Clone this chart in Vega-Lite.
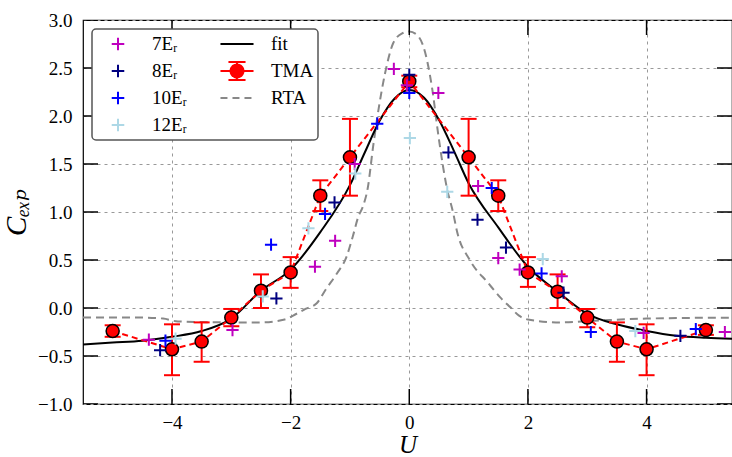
{
  "$schema": "https://vega.github.io/schema/vega-lite/v6.json",
  "width": 649,
  "height": 384,
  "autosize": "none",
  "padding": {"left": 83, "top": 20, "right": 0, "bottom": 53},
  "background": "white",
  "datasets": {
    "rta": [
      {"s":"RTA","x":-5.5,"y":-0.10},{"s":"RTA","x":-4.5,"y":-0.10},{"s":"RTA","x":-4.15,"y":-0.11},{"s":"RTA","x":-3.9,"y":-0.14},
      {"s":"RTA","x":-3.0,"y":-0.15},{"s":"RTA","x":-2.5,"y":-0.15},{"s":"RTA","x":-2.1,"y":-0.12},{"s":"RTA","x":-1.9,"y":-0.06},
      {"s":"RTA","x":-1.75,"y":-0.01},{"s":"RTA","x":-1.56,"y":0.05},{"s":"RTA","x":-1.4,"y":0.2},{"s":"RTA","x":-1.22,"y":0.36},
      {"s":"RTA","x":-1.06,"y":0.53},{"s":"RTA","x":-0.95,"y":0.75},{"s":"RTA","x":-0.86,"y":0.95},{"s":"RTA","x":-0.78,"y":1.06},
      {"s":"RTA","x":-0.70,"y":1.25},{"s":"RTA","x":-0.61,"y":1.68},{"s":"RTA","x":-0.51,"y":2.10},{"s":"RTA","x":-0.41,"y":2.44},
      {"s":"RTA","x":-0.27,"y":2.76},{"s":"RTA","x":-0.12,"y":2.86},{"s":"RTA","x":0,"y":2.88},{"s":"RTA","x":0.12,"y":2.85},
      {"s":"RTA","x":0.24,"y":2.72},{"s":"RTA","x":0.38,"y":2.31},{"s":"RTA","x":0.49,"y":1.80},{"s":"RTA","x":0.57,"y":1.47},
      {"s":"RTA","x":0.63,"y":1.26},{"s":"RTA","x":0.74,"y":0.99},{"s":"RTA","x":0.80,"y":0.81},{"s":"RTA","x":1.02,"y":0.50},
      {"s":"RTA","x":1.33,"y":0.26},{"s":"RTA","x":1.55,"y":0.10},{"s":"RTA","x":1.70,"y":0.01},{"s":"RTA","x":1.85,"y":-0.08},
      {"s":"RTA","x":2.0,"y":-0.12},{"s":"RTA","x":2.54,"y":-0.15},{"s":"RTA","x":3.2,"y":-0.13},{"s":"RTA","x":4.0,"y":-0.11},
      {"s":"RTA","x":5.5,"y":-0.10}
    ],
    "fit": [
      {"s":"fit","x":-5.5,"y":-0.38},{"s":"fit","x":-5,"y":-0.36},{"s":"fit","x":-4.5,"y":-0.34},{"s":"fit","x":-4,"y":-0.30},
      {"s":"fit","x":-3.5,"y":-0.24},{"s":"fit","x":-3,"y":-0.11},{"s":"fit","x":-2.5,"y":0.18},{"s":"fit","x":-2,"y":0.40},
      {"s":"fit","x":-1.5,"y":0.79},{"s":"fit","x":-1,"y":1.28},{"s":"fit","x":-0.75,"y":1.62},{"s":"fit","x":-0.5,"y":1.95},
      {"s":"fit","x":-0.25,"y":2.18},{"s":"fit","x":0,"y":2.27},{"s":"fit","x":0.25,"y":2.19},{"s":"fit","x":0.5,"y":1.96},
      {"s":"fit","x":0.75,"y":1.64},{"s":"fit","x":1,"y":1.30},{"s":"fit","x":1.5,"y":0.84},{"s":"fit","x":2,"y":0.43},
      {"s":"fit","x":2.5,"y":0.17},{"s":"fit","x":3,"y":-0.06},{"s":"fit","x":3.5,"y":-0.17},{"s":"fit","x":4,"y":-0.24},
      {"s":"fit","x":4.5,"y":-0.29},{"s":"fit","x":5,"y":-0.31},{"s":"fit","x":5.5,"y":-0.32}
    ],
    "tma": [
      {"s":"TMA","x":-5,"y":-0.24,"lo":-0.30,"hi":-0.18},
      {"s":"TMA","x":-4,"y":-0.43,"lo":-0.70,"hi":-0.17},
      {"s":"TMA","x":-3.5,"y":-0.35,"lo":-0.56,"hi":-0.15},
      {"s":"TMA","x":-3,"y":-0.10,"lo":-0.19,"hi":-0.01},
      {"s":"TMA","x":-2.5,"y":0.18,"lo":0.00,"hi":0.35},
      {"s":"TMA","x":-2,"y":0.37,"lo":0.21,"hi":0.53},
      {"s":"TMA","x":-1.5,"y":1.17,"lo":1.01,"hi":1.33},
      {"s":"TMA","x":-1,"y":1.57,"lo":1.17,"hi":1.97},
      {"s":"TMA","x":0,"y":2.36,"lo":2.30,"hi":2.42},
      {"s":"TMA","x":1,"y":1.57,"lo":1.17,"hi":1.97},
      {"s":"TMA","x":1.5,"y":1.17,"lo":1.01,"hi":1.33},
      {"s":"TMA","x":2,"y":0.37,"lo":0.22,"hi":0.53},
      {"s":"TMA","x":2.5,"y":0.17,"lo":0.00,"hi":0.35},
      {"s":"TMA","x":3,"y":-0.10,"lo":-0.20,"hi":-0.01},
      {"s":"TMA","x":3.5,"y":-0.35,"lo":-0.56,"hi":-0.15},
      {"s":"TMA","x":4,"y":-0.43,"lo":-0.70,"hi":-0.17},
      {"s":"TMA","x":5,"y":-0.23,"lo":-0.28,"hi":-0.18}
    ],
    "exp": [
      {"s":"7Eᵣ","x":-4.39,"y":-0.33},{"s":"7Eᵣ","x":-2.98,"y":-0.23},{"s":"7Eᵣ","x":-1.59,"y":0.43},{"s":"7Eᵣ","x":-1.25,"y":0.70},
      {"s":"7Eᵣ","x":-0.92,"y":1.50},{"s":"7Eᵣ","x":-0.26,"y":2.49},{"s":"7Eᵣ","x":-0.04,"y":2.32},{"s":"7Eᵣ","x":0.49,"y":2.24},
      {"s":"7Eᵣ","x":1.16,"y":1.27},{"s":"7Eᵣ","x":1.50,"y":0.52},{"s":"7Eᵣ","x":1.86,"y":0.40},{"s":"7Eᵣ","x":2.57,"y":0.33},
      {"s":"7Eᵣ","x":3.95,"y":-0.26},{"s":"7Eᵣ","x":5.32,"y":-0.25},
      {"s":"8Eᵣ","x":-4.20,"y":-0.44},{"s":"8Eᵣ","x":-2.24,"y":0.10},{"s":"8Eᵣ","x":-1.26,"y":1.10},{"s":"8Eᵣ","x":0.0,"y":2.43},
      {"s":"8Eᵣ","x":0.66,"y":1.62},{"s":"8Eᵣ","x":1.15,"y":0.92},{"s":"8Eᵣ","x":1.63,"y":0.63},{"s":"8Eᵣ","x":2.60,"y":0.16},
      {"s":"8Eᵣ","x":4.57,"y":-0.29},
      {"s":"10Eᵣ","x":-4.11,"y":-0.34},{"s":"10Eᵣ","x":-2.33,"y":0.66},{"s":"10Eᵣ","x":-1.42,"y":0.98},{"s":"10Eᵣ","x":-0.54,"y":1.92},
      {"s":"10Eᵣ","x":0.0,"y":2.24},{"s":"10Eᵣ","x":1.39,"y":1.25},{"s":"10Eᵣ","x":2.23,"y":0.36},{"s":"10Eᵣ","x":3.06,"y":-0.25},
      {"s":"10Eᵣ","x":4.83,"y":-0.22},
      {"s":"12Eᵣ","x":-3.94,"y":-0.32},{"s":"12Eᵣ","x":-2.47,"y":0.12},{"s":"12Eᵣ","x":-1.70,"y":0.83},{"s":"12Eᵣ","x":-0.91,"y":1.40},
      {"s":"12Eᵣ","x":0.01,"y":1.77},{"s":"12Eᵣ","x":0.64,"y":1.21},{"s":"12Eᵣ","x":2.25,"y":0.51},{"s":"12Eᵣ","x":3.81,"y":-0.24}
    ],
    "xticks": [{"v": -4}, {"v": -2}, {"v": 0}, {"v": 2}, {"v": 4}],
    "yticks": [{"v": -1}, {"v": -0.5}, {"v": 0}, {"v": 0.5}, {"v": 1}, {"v": 1.5}, {"v": 2}, {"v": 2.5}, {"v": 3}]
  },
  "layer": [
    {
      "data": {"name": "rta"},
      "mark": {"type": "line", "strokeDash": [8, 5], "strokeWidth": 2, "interpolate": "monotone", "clip": true},
      "encoding": {
        "x": {"field": "x", "type": "quantitative",
          "scale": {"domain": [-5.5, 5.44], "nice": false, "zero": false},
          "axis": {"orient": "bottom", "values": [-4, -2, 0, 2, 4], "format": "d", "title": "U",
            "titleFont": "Liberation Serif", "titleFontStyle": "italic", "titleFontWeight": "normal", "titleFontSize": 25, "titleColor": "black", "titlePadding": 0,
            "grid": true, "gridDash": [3, 4], "gridColor": "#999999", "gridWidth": 1,
            "domain": false, "ticks": false,
            "labelPadding": 9, "labelFont": "Liberation Serif", "labelFontSize": 19, "labelColor": "black"}},
        "y": {"field": "y", "type": "quantitative",
          "scale": {"domain": [-1, 3], "nice": false, "zero": false},
          "axis": {"orient": "left", "values": [-1, -0.5, 0, 0.5, 1, 1.5, 2, 2.5, 3], "format": ".1f", "title": "Cₑₓₚ",
            "titleFont": "Liberation Serif, DejaVu Serif", "titleFontStyle": "italic", "titleFontWeight": "normal", "titleFontSize": 29, "titleColor": "black", "titlePadding": 6,
            "grid": true, "gridDash": [3, 4], "gridColor": "#999999", "gridWidth": 1,
            "domain": false, "ticks": false,
            "labelPadding": 11, "labelFont": "Liberation Serif", "labelFontSize": 19, "labelColor": "black"}},
        "color": {"field": "s", "type": "nominal",
          "scale": {"domain": ["7Eᵣ", "8Eᵣ", "10Eᵣ", "12Eᵣ", "fit", "TMA", "RTA"],
                    "range": ["#bf00bf", "#000080", "#0000ff", "#add8e6", "#000000", "#ff0000", "#888888"]},
          "legend": {"title": null, "orient": "none", "legendX": 9, "legendY": 9, "columns": 2, "columnPadding": 28, "rowPadding": 5,
            "padding": 4, "strokeColor": "#555555", "fillColor": "white", "cornerRadius": 4, "clipHeight": 22,
            "labelFont": "Liberation Serif, DejaVu Serif", "labelFontSize": 19, "labelColor": "black", "labelOffset": 14, "symbolOffset": 2,
            "symbolSize": 1444, "symbolStrokeWidth": 2,
            "encode": {
              "legend": {"update": {"strokeWidth": {"value": 1.5}}},
              "symbols": {"update": {
                "shape": {"signal": "datum.value === 'fit' || datum.value === 'RTA' ? 'M-0.87,0H0.87' : datum.value === 'TMA' ? 'M-0.87,0H-0.34M0.34,0H0.87M-0.45,-0.48H0.45M0,-0.48V-0.34M0,0.34V0.48M-0.45,0.48H0.45M0.34,0A0.34,0.34,0,1,1,-0.34,0A0.34,0.34,0,1,1,0.34,0' : 'M-0.33,0H0.33M0,-0.33V0.33'"},
                "size": {"value": 1444},
                "stroke": {"signal": "scale('color', datum.value)"},
                "fill": {"signal": "datum.value === 'TMA' ? '#ff0000' : 'transparent'"},
                "strokeWidth": {"value": 2},
                "strokeDash": {"signal": "datum.value === 'RTA' ? [7, 5] : [1, 0]"},
                "opacity": {"value": 1}
              }}
            }}}
      }
    },
    {
      "data": {"name": "fit"},
      "mark": {"type": "line", "strokeWidth": 2, "interpolate": "monotone", "clip": true},
      "encoding": {
        "x": {"field": "x", "type": "quantitative"},
        "y": {"field": "y", "type": "quantitative"},
        "color": {"field": "s", "type": "nominal"}
      }
    },
    {
      "data": {"name": "tma"},
      "mark": {"type": "line", "strokeDash": [6, 4], "strokeWidth": 2},
      "encoding": {
        "x": {"field": "x", "type": "quantitative"},
        "y": {"field": "y", "type": "quantitative"},
        "color": {"field": "s", "type": "nominal"}
      }
    },
    {
      "data": {"name": "tma"},
      "mark": {"type": "rule", "color": "#ff0000", "strokeWidth": 2},
      "encoding": {
        "x": {"field": "x", "type": "quantitative"},
        "y": {"field": "lo", "type": "quantitative"},
        "y2": {"field": "hi"}
      }
    },
    {
      "data": {"name": "tma"},
      "mark": {"type": "tick", "orient": "horizontal", "color": "#ff0000", "size": 16, "thickness": 2, "opacity": 1},
      "encoding": {
        "x": {"field": "x", "type": "quantitative"},
        "y": {"field": "lo", "type": "quantitative"}
      }
    },
    {
      "data": {"name": "tma"},
      "mark": {"type": "tick", "orient": "horizontal", "color": "#ff0000", "size": 16, "thickness": 2, "opacity": 1},
      "encoding": {
        "x": {"field": "x", "type": "quantitative"},
        "y": {"field": "hi", "type": "quantitative"}
      }
    },
    {
      "data": {"name": "tma"},
      "mark": {"type": "point", "filled": true, "fill": "#ff0000", "stroke": "#000000", "strokeWidth": 1.5, "size": 170, "opacity": 1},
      "encoding": {
        "x": {"field": "x", "type": "quantitative"},
        "y": {"field": "y", "type": "quantitative"}
      }
    },
    {
      "data": {"name": "exp"},
      "mark": {"type": "point", "shape": "M-1,0H1M0,-1V1", "filled": false, "strokeWidth": 2, "size": 150, "opacity": 1},
      "encoding": {
        "x": {"field": "x", "type": "quantitative"},
        "y": {"field": "y", "type": "quantitative"},
        "color": {"field": "s", "type": "nominal"}
      }
    },
    {
      "data": {"name": "xticks"},
      "mark": {"type": "tick", "orient": "vertical", "color": "#000000", "size": 30, "thickness": 1.5, "opacity": 1, "clip": true},
      "encoding": {
        "x": {"field": "v", "type": "quantitative"},
        "y": {"datum": -1, "type": "quantitative"}
      }
    },
    {
      "data": {"name": "xticks"},
      "mark": {"type": "tick", "orient": "vertical", "color": "#000000", "size": 30, "thickness": 1.5, "opacity": 1, "clip": true},
      "encoding": {
        "x": {"field": "v", "type": "quantitative"},
        "y": {"datum": 3, "type": "quantitative"}
      }
    },
    {
      "data": {"name": "yticks"},
      "mark": {"type": "tick", "orient": "horizontal", "color": "#000000", "size": 30, "thickness": 1.5, "opacity": 1, "clip": true},
      "encoding": {
        "x": {"datum": -5.5, "type": "quantitative"},
        "y": {"field": "v", "type": "quantitative"}
      }
    },
    {
      "data": {"name": "yticks"},
      "mark": {"type": "tick", "orient": "horizontal", "color": "#000000", "size": 30, "thickness": 1.5, "opacity": 1, "clip": true},
      "encoding": {
        "x": {"datum": 5.44, "type": "quantitative"},
        "y": {"field": "v", "type": "quantitative"}
      }
    }
  ],
  "config": {
    "view": {"stroke": "#000000", "strokeWidth": 1.2},
    "font": "Liberation Serif"
  }
}
